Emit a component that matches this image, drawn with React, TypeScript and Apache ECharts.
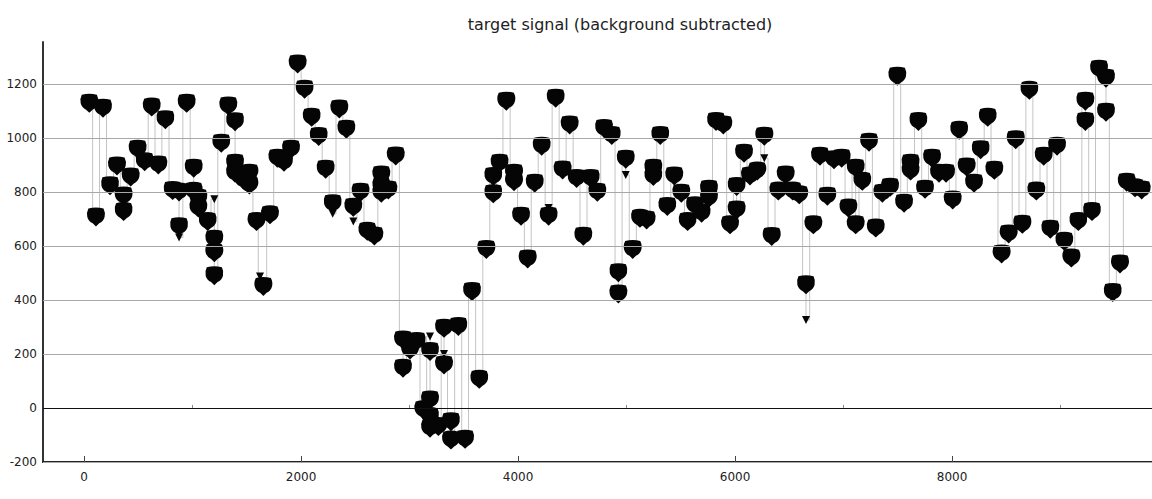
import { useEffect, useRef } from 'react';
import * as echarts from 'echarts';

// blob clusters (many overlapping markers)
const blobs: [number, number][] = [
  [49, 1128], [110, 707], [175, 1110], [240, 823], [304, 896], [365, 785], [365, 727],
  [430, 855], [494, 958], [559, 912], [624, 1114], [685, 900], [750, 1067], [817, 805],
  [876, 800], [876, 671], [946, 1128], [1011, 888], [1011, 802], [1054, 777], [1054, 740],
  [1140, 690], [1201, 625], [1201, 575], [1201, 490], [1265, 980], [1330, 1118],
  [1392, 1060], [1392, 906], [1392, 869], [1468, 844], [1524, 869], [1524, 826],
  [1590, 690], [1653, 450], [1714, 715], [1782, 925], [1843, 910], [1908, 958],
  [1969, 1274], [2033, 1180], [2098, 1076], [2163, 1005], [2227, 884], [2292, 756],
  [2353, 1107], [2418, 1032], [2482, 743], [2549, 799], [2611, 654], [2676, 637],
  [2740, 863], [2740, 821], [2740, 795], [2805, 807], [2873, 933], [2940, 252], [2940, 147],
  [3005, 215], [3066, 246], [3127, -7], [3189, 209], [3189, 30], [3189, -32], [3189, -75],
  [3266, -69], [3318, 295], [3318, 159], [3382, -51], [3382, -119], [3450, 302],
  [3512, -116], [3576, 431], [3643, 106], [3708, 587], [3772, 857], [3772, 793],
  [3830, 906], [3892, 1136], [3963, 869], [3963, 838], [4028, 710], [4089, 552],
  [4154, 832], [4218, 969], [4282, 710], [4347, 1147], [4411, 881], [4476, 1048],
  [4540, 850], [4602, 636], [4670, 850], [4731, 799], [4793, 1035], [4864, 1009],
  [4925, 501], [4925, 422], [4993, 921], [5057, 587], [5124, 702], [5185, 696],
  [5247, 888], [5247, 857], [5311, 1009], [5376, 746], [5440, 859], [5505, 795],
  [5563, 690], [5631, 749], [5692, 721], [5760, 810], [5760, 777], [5825, 1061],
  [5892, 1048], [5954, 678], [6015, 820], [6015, 733], [6083, 943], [6138, 859],
  [6205, 877], [6270, 1006], [6338, 635], [6399, 803], [6467, 863], [6532, 803],
  [6592, 789], [6654, 456], [6722, 678], [6783, 932], [6851, 784], [6912, 919],
  [6983, 925], [7045, 740], [7112, 888], [7112, 678], [7173, 839], [7235, 984],
  [7297, 666], [7358, 795], [7429, 817], [7496, 1228], [7558, 758], [7618, 906],
  [7618, 877], [7690, 1061], [7751, 810], [7816, 925], [7880, 869], [7945, 869],
  [8006, 770], [8066, 1028], [8135, 892], [8203, 832], [8264, 956], [8329, 1076],
  [8390, 880], [8457, 570], [8522, 644], [8587, 993], [8648, 680], [8713, 1176],
  [8777, 803], [8845, 932], [8906, 662], [8968, 969], [9035, 617], [9100, 555],
  [9164, 690], [9229, 1136], [9229, 1061], [9290, 727], [9355, 1254], [9419, 1221],
  [9419, 1095], [9481, 428], [9548, 533], [9610, 836], [9687, 815], [9748, 807],
];

// single stray triangles
const tips: [number, number][] = [
  [876, 631], [1201, 773], [1392, 1040], [1622, 487], [2292, 719], [2482, 690],
  [3189, 265], [3318, 200], [4282, 740], [4993, 863], [6270, 925], [6654, 326],
];

const yGrid = [-200, 200, 400, 600, 800, 1000, 1200];
const xLabels = [0, 2000, 4000, 6000, 8000];
const xMinorTicks = [1000, 3000, 5000, 7000, 9000];

const blobPath =
  'path://M3,2 Q10,0 17,2 Q19,6 18,10 Q17,14 13,16 L10,19 L7,16 Q3,14 2,10 Q1,6 3,2 Z';

export default function App() {
  const chartRef = useRef<HTMLDivElement>(null);

  useEffect(() => {
    if (!chartRef.current) return;
    document.body.style.margin = '0';
    const chart = echarts.init(chartRef.current, null, { renderer: 'svg' });

    const linePts = [...blobs, ...tips].sort((a, b) => a[0] - b[0] || b[1] - a[1]);
    const font = '"DejaVu Sans", Verdana, sans-serif';

    const option: echarts.EChartsOption = {
      animation: false,
      backgroundColor: '#ffffff',
      title: {
        text: 'target signal (background subtracted)',
        left: 615,
        textAlign: 'center',
        top: 11,
        textStyle: { fontFamily: font, fontSize: 16, fontWeight: 'normal', color: '#222' },
      },
      grid: { left: 43, right: 0, top: 42, bottom: 37 },
      xAxis: [
        {
          type: 'value',
          min: -378,
          max: 9843,
          axisLine: { onZero: false, lineStyle: { color: '#222', width: 2 } },
          axisTick: { inside: true, length: 6, lineStyle: { color: '#444' }, customValues: xLabels },
          axisLabel: {
            customValues: xLabels,
            fontFamily: font,
            fontSize: 12,
            color: '#222',
            margin: 9,
            formatter: (v: number) => String(v),
          },
          splitLine: { show: false },
        },
        {
          type: 'value',
          min: -378,
          max: 9843,
          position: 'bottom',
          axisLine: { show: false },
          axisTick: { inside: true, length: 3, lineStyle: { color: '#888' }, customValues: xMinorTicks },
          axisLabel: { show: false },
          splitLine: { show: false },
        },
      ],
      yAxis: {
        type: 'value',
        min: -200,
        max: 1355,
        interval: 200,
        axisLine: { show: true, onZero: false, lineStyle: { color: '#333', width: 2 } },
        axisTick: { show: false },
        axisLabel: {
          fontFamily: font,
          fontSize: 12,
          color: '#222',
          margin: 6,
          showMaxLabel: false,
          formatter: (v: number) => (v % 200 === 0 ? String(v) : ''),
        },
        splitLine: { show: false },
      },
      series: [
        {
          type: 'line',
          step: 'middle',
          data: linePts,
          symbol: 'none',
          lineStyle: { color: '#c4c4c4', width: 1 },
          z: 1,
          markLine: {
            silent: true,
            symbol: 'none',
            label: { show: false },
            data: [
              ...yGrid.map((v) => ({ yAxis: v, lineStyle: { color: '#a8a8a8', width: 1, type: 'solid' as const } })),
              { yAxis: 0, lineStyle: { color: '#111', width: 1.2, type: 'solid' as const } },
            ],
          },
        },
        {
          type: 'scatter',
          data: blobs,
          symbol: blobPath,
          symbolSize: [18, 19],
          itemStyle: { color: '#050505', opacity: 1 },
          z: 3,
        },
        {
          type: 'scatter',
          data: tips,
          symbol: 'triangle',
          symbolRotate: 180,
          symbolSize: 8,
          itemStyle: { color: '#050505', opacity: 1 },
          z: 3,
        },
      ],
    };

    chart.setOption(option);
    return () => chart.dispose();
  }, []);

  return <div ref={chartRef} style={{ width: 1152, height: 499 }} />;
}
